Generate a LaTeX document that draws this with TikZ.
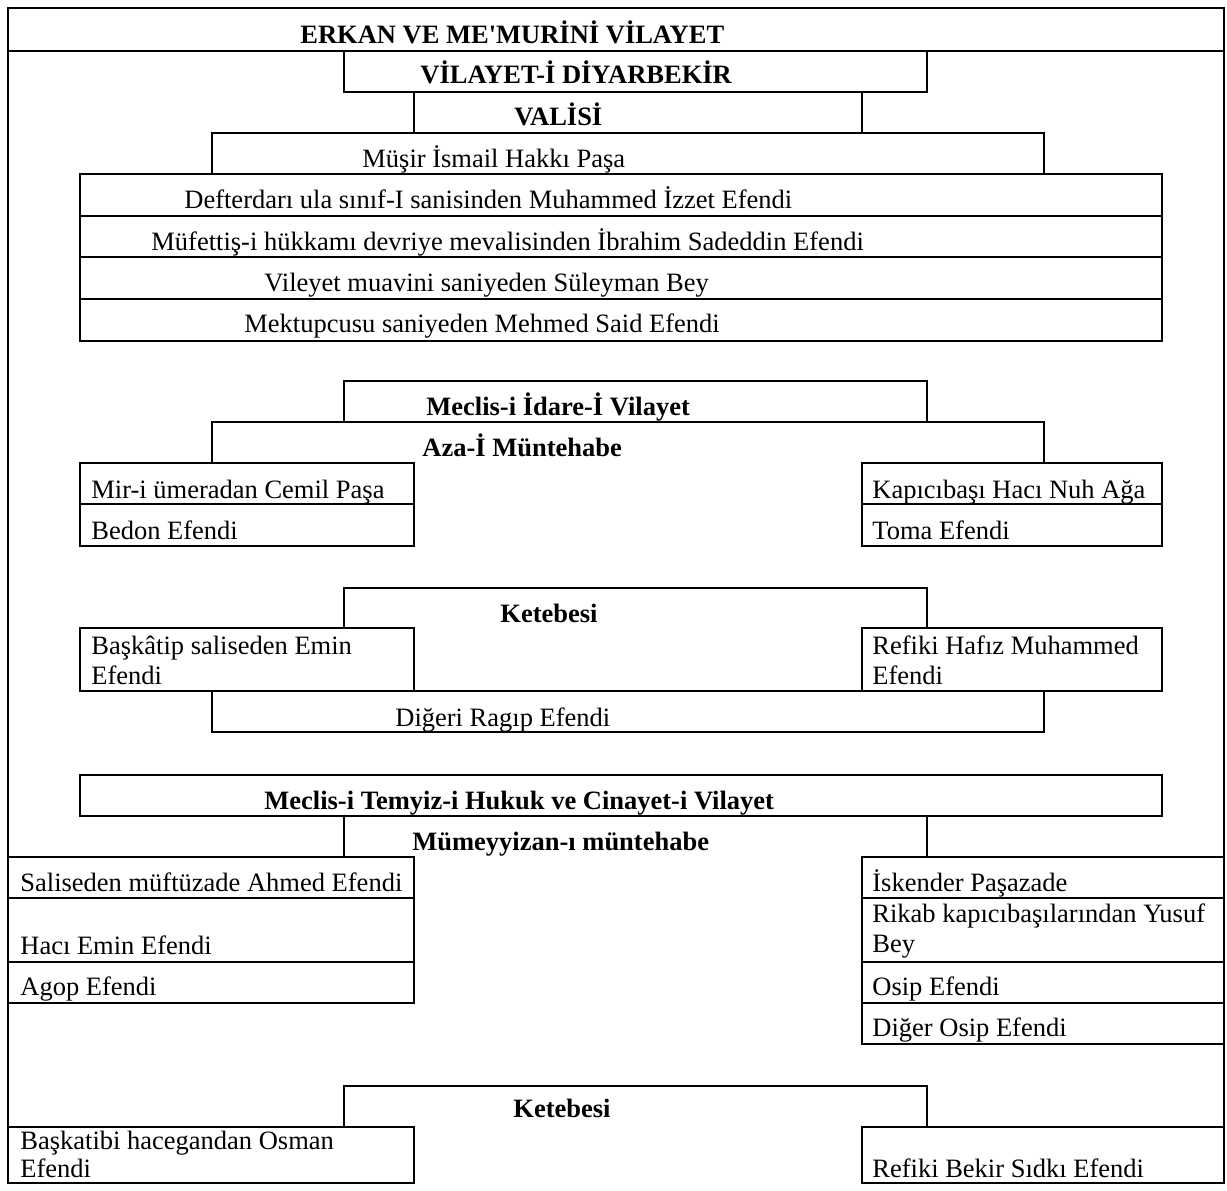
\documentclass[tikz,border=0pt]{standalone}
\usepackage{fontspec}
\setmainfont{Liberation Serif}[Ligatures=TeXOff]
\begin{document}
\begin{tikzpicture}[x=0.5pt,y=-0.5pt,
  ln/.style={line width=1pt,line join=miter,line cap=rect},
  txt/.style={anchor=base west,inner sep=0pt,font=\fontsize{13.25}{15.2}\selectfont},
  hd/.style={txt,font=\fontsize{13.25}{15.2}\selectfont\bfseries}]
\useasboundingbox[fill=white] (0,0) rectangle (1227,1190);
% ---------- frame and top block ----------
\draw[ln] (8,1183) -- (8,8) -- (1224,8) -- (1224,1183);
\draw[ln] (8,51) -- (1224,51);
\draw[ln] (344,51) -- (344,92) -- (927,92) -- (927,51);
\draw[ln] (414,92) -- (414,133);
\draw[ln] (862,92) -- (862,133);
\draw[ln] (212,174) -- (212,133) -- (1044,133) -- (1044,174);
\draw[ln] (80,174) rectangle (1162,341);
\draw[ln] (80,216) -- (1162,216);
\draw[ln] (80,257) -- (1162,257);
\draw[ln] (80,299) -- (1162,299);
% ---------- Meclis-i Idare ----------
\draw[ln] (344,422) -- (344,381) -- (927,381) -- (927,422);
\draw[ln] (212,463) -- (212,422) -- (1044,422) -- (1044,463);
\draw[ln] (80,463) rectangle (414,546);
\draw[ln] (80,504) -- (414,504);
\draw[ln] (862,463) rectangle (1162,546);
\draw[ln] (862,504) -- (1162,504);
% ---------- Ketebesi 1 ----------
\draw[ln] (344,628) -- (344,588) -- (927,588) -- (927,628);
\draw[ln] (80,628) rectangle (414,691);
\draw[ln] (862,628) rectangle (1162,691);
\draw[ln] (414,691) -- (862,691);
\draw[ln] (212,691) -- (212,732) -- (1044,732) -- (1044,691);
% ---------- Meclis-i Temyiz ----------
\draw[ln] (80,775) rectangle (1162,816);
\draw[ln] (344,816) -- (344,857);
\draw[ln] (927,816) -- (927,857);
\draw[ln] (8,857) -- (414,857) -- (414,1003) -- (8,1003);
\draw[ln] (8,898) -- (414,898);
\draw[ln] (8,962) -- (414,962);
\draw[ln] (862,857) rectangle (1224,1044);
\draw[ln] (862,898) -- (1224,898);
\draw[ln] (862,962) -- (1224,962);
\draw[ln] (862,1003) -- (1224,1003);
% ---------- Ketebesi 2 ----------
\draw[ln] (344,1127) -- (344,1086) -- (927,1086) -- (927,1127);
\draw[ln] (8,1127) -- (414,1127) -- (414,1183) -- (8,1183);
\draw[ln] (862,1127) rectangle (1224,1183);
% ---------- texts ----------
\node[hd] (title) at (300,43) {ERKAN VE ME'MURİNİ VİLAYET};
\node[hd] (diyar) at (420,83) {VİLAYET-İ DİYARBEKİR};
\node[hd] (vali) at (514,125) {VALİSİ};
\node[txt] (musir) at (362,167) {Müşir İsmail Hakkı Paşa};
\node[txt] (defter) at (184,208) {Defterdarı ula sınıf-I sanisinden Muhammed İzzet Efendi};
\node[txt] (mufettis) at (151,250) {Müfettiş-i hükkamı devriye mevalisinden İbrahim Sadeddin Efendi};
\node[txt] (vileyet) at (264,291) {Vileyet muavini saniyeden Süleyman Bey};
\node[txt] (mektup) at (244,332) {Mektupcusu saniyeden Mehmed Said Efendi};
\node[hd] (idare) at (426,415) {Meclis-i İdare-İ Vilayet};
\node[hd] (aza) at (422,456) {Aza-İ Müntehabe};
\node[txt] (miri) at (91,498) {Mir-i ümeradan Cemil Paşa};
\node[txt] (kapici) at (872,498) {Kapıcıbaşı Hacı Nuh Ağa};
\node[txt] (bedon) at (91,539) {Bedon Efendi};
\node[txt] (toma) at (872,539) {Toma Efendi};
\node[hd] (ketebeA) at (500,622) {Ketebesi};
\node[txt] (baskatipA) at (91,654) {Başkâtip saliseden Emin};
\node[txt] (baskatipB) at (91,684) {Efendi};
\node[txt] (refikiA) at (872,654) {Refiki Hafız Muhammed};
\node[txt] (refikiB) at (872,684) {Efendi};
\node[txt] (ragip) at (395,726) {Diğeri Ragıp Efendi};
\node[hd] (temyiz) at (264,809) {Meclis-i Temyiz-i Hukuk ve Cinayet-i Vilayet};
\node[hd] (mumey) at (412,850) {Mümeyyizan-ı müntehabe};
\node[txt] (salis) at (20,891) {Saliseden müftüzade Ahmed Efendi};
\node[txt] (iskender) at (872,891) {İskender Paşazade};
\node[txt] (rikabA) at (872,922) {Rikab kapıcıbaşılarından Yusuf};
\node[txt] (rikabB) at (872,952) {Bey};
\node[txt] (haci) at (20,954) {Hacı Emin Efendi};
\node[txt] (agop) at (20,995) {Agop Efendi};
\node[txt] (osip) at (872,995) {Osip Efendi};
\node[txt] (digerosip) at (872,1036) {Diğer Osip Efendi};
\node[hd] (ketebeB) at (513,1117) {Ketebesi};
\node[txt] (osmanA) at (20,1149) {Başkatibi hacegandan Osman};
\node[txt] (osmanB) at (20,1177) {Efendi};
\node[txt] (bekir) at (872,1177) {Refiki Bekir Sıdkı Efendi};
\end{tikzpicture}
\end{document}
